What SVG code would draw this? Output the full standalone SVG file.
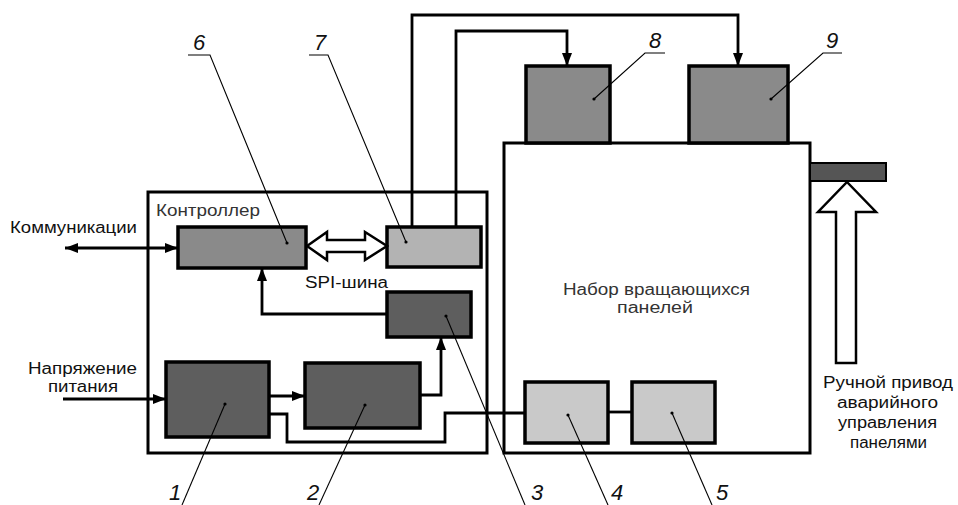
<svg xmlns="http://www.w3.org/2000/svg" width="958" height="505" viewBox="0 0 958 505">
<defs>
<marker id="ah" markerUnits="userSpaceOnUse" markerWidth="14" markerHeight="12" refX="13" refY="6" orient="auto-start-reverse">
<path d="M0,1 L13,6 L0,11 Z" fill="#000"/>
</marker>
</defs>
<style>
.frame{fill:#fff;stroke:#000;stroke-width:3}
.blk{stroke:#000;stroke-width:3.5}
.dark{fill:#5e5e5e}
.mid{fill:#8a8a8a}
.light{fill:#b3b3b3}
.pale{fill:#c9c9c9}
.con{fill:none;stroke:#000;stroke-width:2.8}
.lead{fill:none;stroke:#000;stroke-width:1.1}
.hollow{fill:#fff;stroke:#000;stroke-width:2.5;stroke-linejoin:miter}
.t{font-family:"Liberation Sans",Arial,sans-serif;font-size:16px;fill:#111}
.tg{font-family:"Liberation Sans",Arial,sans-serif;font-size:16px;fill:#333}
.num{font-family:"Liberation Sans",Arial,sans-serif;font-size:22px;font-style:italic;fill:#111}
.dot{fill:#000}
</style>

<g id="controller">
<rect class="frame" x="148" y="192" width="339" height="261"/>
<text class="tg" x="156" y="216" textLength="104" lengthAdjust="spacingAndGlyphs">Контроллер</text>
</g>

<g id="panels">
<rect class="frame" x="504" y="143" width="306" height="310"/>
<text class="tg" x="563" y="295" textLength="187" lengthAdjust="spacingAndGlyphs">Набор вращающихся</text>
<text class="tg" x="617" y="313" textLength="76" lengthAdjust="spacingAndGlyphs">панелей</text>
</g>

<g id="node6"><rect class="blk mid" x="178" y="227" width="128" height="41"/></g>
<g id="node7"><rect class="blk light" x="387" y="227" width="94" height="40"/></g>
<g id="node3"><rect class="blk dark" x="387" y="292" width="84" height="45"/></g>
<g id="node1"><rect class="blk dark" x="166" y="362" width="103" height="75"/></g>
<g id="node2"><rect class="blk dark" x="305" y="363" width="115" height="65"/></g>
<g id="node4"><rect class="blk pale" x="525" y="382" width="83" height="61"/></g>
<g id="node5"><rect class="blk pale" x="632" y="382" width="83" height="61"/></g>
<g id="node8"><rect class="blk mid" x="526" y="66" width="84" height="77"/></g>
<g id="node9"><rect class="blk mid" x="689" y="66" width="99" height="77"/></g>
<g id="handle"><rect x="810" y="163" width="76" height="18" fill="#555" stroke="#000" stroke-width="2"/></g>

<g id="connectors">
<path class="con" d="M65,248 H178" marker-start="url(#ah)" marker-end="url(#ah)"/>
<path class="con" d="M63,399 H166" marker-end="url(#ah)"/>
<path class="con" d="M269,396 H305" marker-end="url(#ah)"/>
<path class="con" d="M420,395 H441 V337" marker-end="url(#ah)"/>
<path class="con" d="M387,314 H262 V268" marker-end="url(#ah)"/>
<path class="con" d="M412,227 V15 H738 V66" marker-end="url(#ah)"/>
<path class="con" d="M456,227 V31 H567 V66" marker-end="url(#ah)"/>
<path class="con" d="M269,414 H287 V442 H445 V413 H525"/>
<path class="con" d="M608,412 H632"/>
<polygon class="hollow" points="307,246 327,232 327,240 365,240 365,232 387,246 365,260 365,252 327,252 327,260"/>
<polygon class="hollow" points="847,182 876,212 856,212 856,363 836,363 836,212 818,212"/>
</g>

<g id="labels">
<text class="t" x="10" y="233" textLength="127" lengthAdjust="spacingAndGlyphs">Коммуникации</text>
<text class="t" x="305" y="288" textLength="83" lengthAdjust="spacingAndGlyphs">SPI-шина</text>
<text class="t" x="28" y="374" textLength="109" lengthAdjust="spacingAndGlyphs">Напряжение</text>
<text class="t" x="48" y="392" textLength="70" lengthAdjust="spacingAndGlyphs">питания</text>
<text class="t" x="823" y="388" textLength="130" lengthAdjust="spacingAndGlyphs">Ручной привод</text>
<text class="t" x="837" y="408" textLength="101" lengthAdjust="spacingAndGlyphs">аварийного</text>
<text class="t" x="838" y="428" textLength="99" lengthAdjust="spacingAndGlyphs">управления</text>
<text class="t" x="850" y="448" textLength="77" lengthAdjust="spacingAndGlyphs">панелями</text>
</g>

<g id="leaders">
<path class="lead" d="M188,55 H210 L287,243"/>
<circle class="dot" cx="287" cy="243" r="1.6"/>
<text class="num" x="199" y="50" text-anchor="middle">6</text>
<path class="lead" d="M309,55 H328 L406,242"/>
<circle class="dot" cx="406" cy="242" r="1.6"/>
<text class="num" x="320" y="50" text-anchor="middle">7</text>
<path class="lead" d="M665,53 H645 L594,99"/>
<circle class="dot" cx="594" cy="99" r="1.6"/>
<text class="num" x="655" y="48" text-anchor="middle">8</text>
<path class="lead" d="M842,53 H823 L771,99"/>
<circle class="dot" cx="771" cy="99" r="1.6"/>
<text class="num" x="832" y="48" text-anchor="middle">9</text>
<path class="lead" d="M182,505 L225,404"/>
<circle class="dot" cx="225" cy="404" r="1.6"/>
<text class="num" x="175" y="500" text-anchor="middle">1</text>
<path class="lead" d="M319,505 L365,405"/>
<circle class="dot" cx="365" cy="405" r="1.6"/>
<text class="num" x="313" y="500" text-anchor="middle">2</text>
<path class="lead" d="M446,316 L525,505"/>
<circle class="dot" cx="446" cy="316" r="1.6"/>
<text class="num" x="537" y="500" text-anchor="middle">3</text>
<path class="lead" d="M568,415 L608,505"/>
<circle class="dot" cx="568" cy="415" r="1.6"/>
<text class="num" x="617" y="500" text-anchor="middle">4</text>
<path class="lead" d="M672,413 L712,505"/>
<circle class="dot" cx="672" cy="413" r="1.6"/>
<text class="num" x="722" y="500" text-anchor="middle">5</text>
</g>
</svg>
